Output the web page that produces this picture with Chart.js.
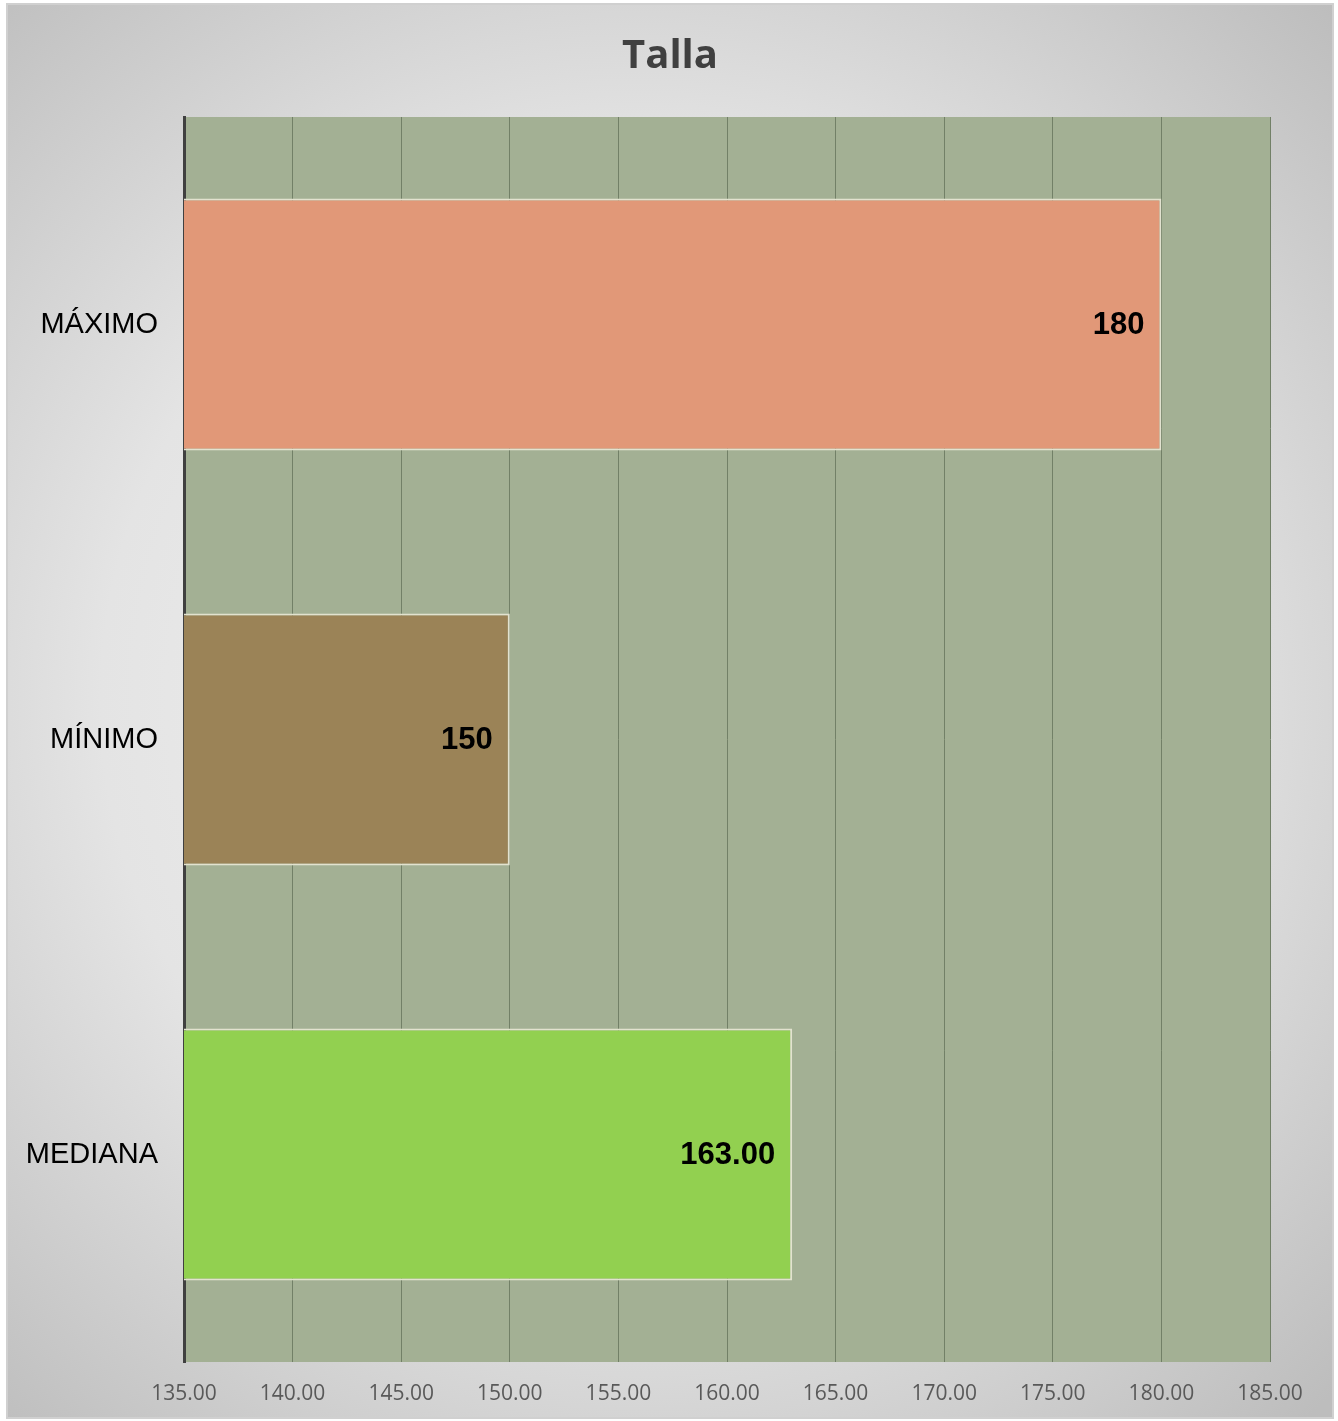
<!DOCTYPE html>
<html>
<head>
<meta charset="utf-8">
<script src="https://cdn.jsdelivr.net/npm/chart.js@4/dist/chart.umd.min.js"></script>
<style>
  html, body { margin: 0; padding: 0; background: #fff; }
  #wrap { width: 1338px; height: 1421px; }
</style>
</head>
<body>
<div id="wrap"><canvas id="chartTalla" width="1338" height="1421"></canvas></div>
<script>
const categories = ['MÁXIMO', 'MÍNIMO', 'MEDIANA'];
const values = [180, 150, 163];
const labelDecimals = [0, 0, 2];
const barColors = ['#e19878', '#9b8357', '#92d050'];
const xMin = 135, xMax = 185, xStep = 5;

// background box, plot fill, title, value labels
const decor = {
  id: 'decor',
  beforeDraw(chart) {
    const { ctx, chartArea: a } = chart;
    ctx.save();
    const g = ctx.createRadialGradient(640, 700, 0, 640, 700, 980);
    g.addColorStop(0, '#f4f4f4');
    g.addColorStop(0.55, '#e4e4e4');
    g.addColorStop(1, '#bdbdbd');
    ctx.fillStyle = g;
    ctx.fillRect(7, 4, 1326, 1414);
    ctx.strokeStyle = '#d0d0d0';
    ctx.lineWidth = 2;
    ctx.strokeRect(7, 4, 1326, 1414);
    ctx.fillStyle = '#a3b094';
    ctx.fillRect(a.left, a.top, a.right - a.left, a.bottom - a.top);
    ctx.fillStyle = '#404040';
    ctx.font = 'bold 40px "Open Sans", "Liberation Sans", sans-serif';
    ctx.textAlign = 'center';
    ctx.textBaseline = 'middle';
    ctx.fillText('Talla', 670, 57);
    ctx.restore();
  },
  afterDatasetsDraw(chart) {
    const { ctx } = chart;
    const meta = chart.getDatasetMeta(0);
    ctx.save();
    ctx.fillStyle = '#000';
    ctx.font = 'bold 31px "Liberation Sans", Arial, sans-serif';
    ctx.textAlign = 'right';
    ctx.textBaseline = 'middle';
    meta.data.forEach((bar, i) => {
      ctx.fillText(values[i].toFixed(labelDecimals[i]), bar.x - 17, bar.y + 1);
    });
    ctx.restore();
  }
};

new Chart(document.getElementById('chartTalla'), {
  type: 'bar',
  data: {
    labels: categories,
    datasets: [{
      data: values,
      backgroundColor: barColors,
      borderColor: '#e2e2cf',
      borderWidth: 2,
      borderSkipped: false,
      barPercentage: 0.607,
      categoryPercentage: 1
    }]
  },
  options: {
    indexAxis: 'y',
    responsive: false,
    animation: false,
    events: [],
    layout: { padding: { left: 0, right: 68, top: 117, bottom: 0 } },
    plugins: { legend: { display: false }, title: { display: false }, tooltip: { enabled: false } },
    scales: {
      x: {
        min: xMin, max: xMax,
        afterBuildTicks: s => { s.ticks = []; for (let v = xMin; v <= xMax; v += xStep) s.ticks.push({ value: v }); },
        afterFit: s => { s.height = 59; },
        grid: { color: '#728067', lineWidth: 1, drawTicks: false },
        border: { display: false },
        ticks: {
          padding: 19,
          color: '#595959',
          font: { family: '"Open Sans", "Liberation Sans", sans-serif', size: 21 },
          callback: v => Number(v).toFixed(2)
        }
      },
      y: {
        afterFit: s => { s.width = 184; },
        grid: { display: false, drawTicks: false },
        border: { display: true, color: '#404040', width: 3 },
        ticks: {
          padding: 26,
          color: '#000',
          font: { family: '"Liberation Sans", Arial, sans-serif', size: 29 }
        }
      }
    }
  },
  plugins: [decor]
});
</script>
</body>
</html>
